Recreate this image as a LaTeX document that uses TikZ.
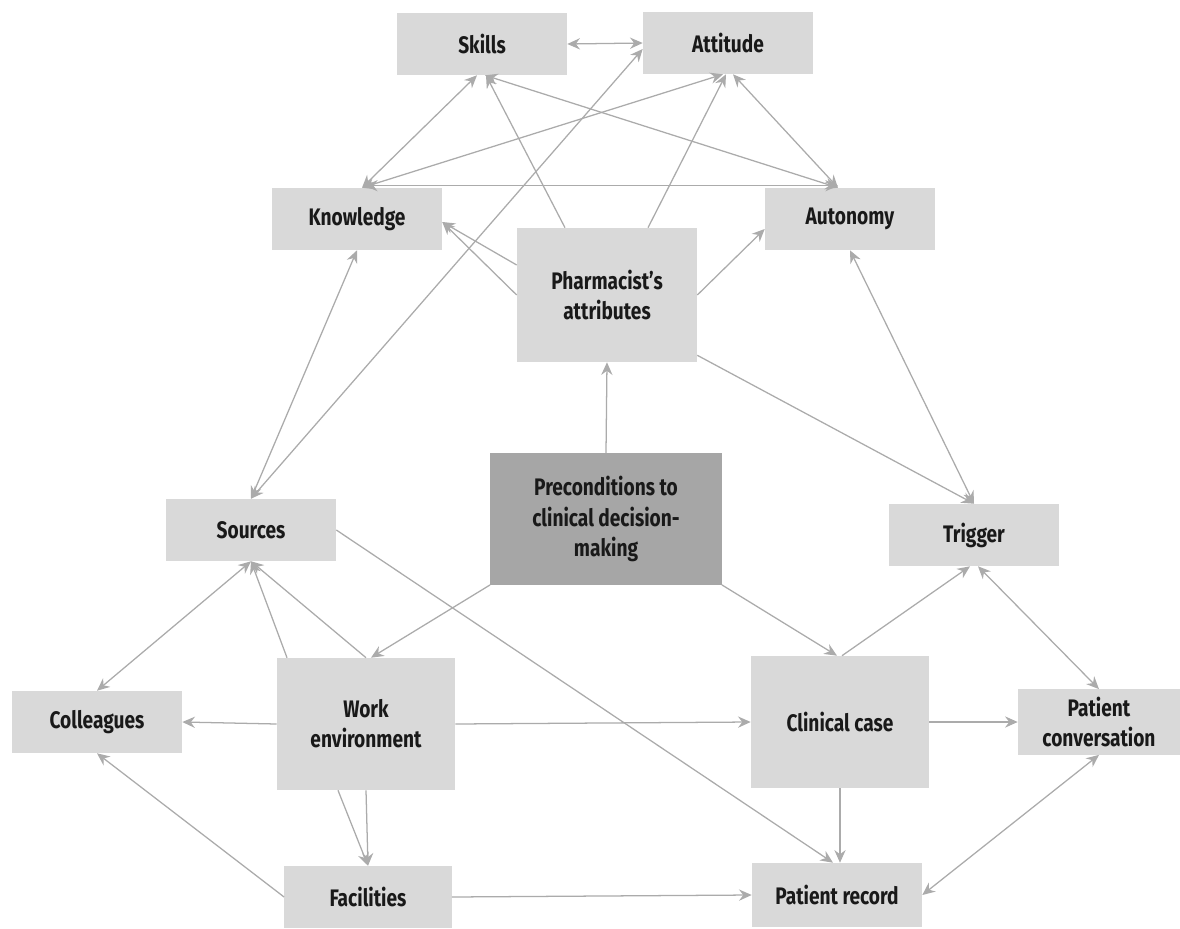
\documentclass[tikz,border=0pt]{standalone}
\usepackage{fontspec}
\setmainfont{Fira Sans}[FakeStretch=0.8]
\usetikzlibrary{arrows.meta}
\definecolor{boxgray}{HTML}{D9D9D9}
\definecolor{darkgray}{HTML}{A6A6A6}
\definecolor{linegray}{HTML}{ABABAB}
\tikzset{
  box/.style={fill=boxgray, inner sep=0pt, minimum width=4.25cm, minimum height=1.55cm,
    align=center, text=black!90, font=\fontsize{17}{21.5}\selectfont\bfseries},
  bigbox/.style={box, minimum width=4.45cm, minimum height=3.3cm},
  link/.style={draw=linegray, line width=0.9pt, -{Stealth[length=9pt,width=8pt,inset=3pt]}},
  both/.style={link, {Stealth[length=9pt,width=8pt,inset=3pt]}-{Stealth[length=9pt,width=8pt,inset=3pt]}}
}
\begin{document}
\begin{tikzpicture}[x=0.025cm, y=-0.025cm]
\useasboundingbox (0,0) rectangle (1180,929);
% top row
\node[box] (skl) at (482,44) {Skills};
\node[box] (att) at (728,43) {Attitude};
\node[box] (know) at (357,219) {Knowledge};
\node[box] (auto) at (850,219) {Autonomy};
\node[bigbox, minimum width=4.5cm, minimum height=3.35cm] (pha) at (607,295) {Pharmacist’s\\attributes};
% centre
\node[bigbox, fill=darkgray, minimum width=5.78cm, minimum height=3.28cm] (pre) at (606,519) {Preconditions to\\clinical decision-\\making};
\node[box] (src) at (251,530) {Sources};
\node[box] (trg) at (974,535) {Trigger};
% bottom rows
\node[box] (coll) at (97,722) {Colleagues};
\node[bigbox] (work) at (366,724) {Work\\environment};
\node[bigbox] (clin) at (840,722) {Clinical case};
\node[box, minimum width=4.05cm, minimum height=1.63cm] (pcon) at (1099,722) {Patient\\conversation};
\node[box, minimum width=4.18cm] (fac) at (368,897) {Facilities};
\node[box, minimum height=1.6cm] (prec) at (837,895) {Patient record};

% attributes
\draw[both] (skl.east) -- (att.west);
\draw[both] ([shift={(5,0)}]know.north) -- ([shift={(-5,0)}]skl.south);
\draw[both] ([shift={(5,0)}]know.north) -- ([shift={(-5,0)}]att.south);
\draw[both] ([shift={(8,-2)}]know.north) -- ([shift={(-12,-2)}]auto.north);
\draw[both] ([shift={(3,0)}]skl.south) -- ([shift={(-12,0)}]auto.north);
\draw[both] ([shift={(5,0)}]att.south) -- ([shift={(-12,0)}]auto.north);
\draw[link] ([shift={(-42,0)}]pha.north) -- ([shift={(4,0)}]skl.south);
\draw[link] ([shift={(41,0)}]pha.north) -- ([shift={(-2,0)}]att.south);
\draw[link] ([shift={(0,-30)}]pha.west) -- ([shift={(0,3)}]know.east);
\draw[link] (pha.west) -- ([shift={(0,3)}]know.east);
\draw[link] (pha.east) -- ([shift={(0,10)}]auto.west);
\draw[link] ([shift={(0,-7)}]pha.south east) -- (trg.north);
\draw[both] (auto.south) -- (trg.north);
\draw[link] (pre.north) -- (pha.south);
% sources
\draw[both] (src.north) -- (know.south);
\draw[both] (src.north) -- ([shift={(0,6)}]att.west);
\draw[link] (src.east) -- ([shift={(-4,0)}]prec.north);
\draw[both] (src.south) -- (coll.north);
% work environment
\draw[link] (pre.south west) -- ([shift={(5,0)}]work.north);
\draw[link] ([shift={(-79,0)}]work.north) -- (src.south);
\draw[link] (work.north) -- (src.south);
\draw[link] (work.west) -- (coll.east);
\draw[link] (work.east) -- (clin.west);
\draw[link] ([shift={(-28,0)}]work.south) -- (fac.north);
\draw[link] (work.south) -- (fac.north);
\draw[link] (fac.west) -- (coll.south);
\draw[link] (fac.east) -- (prec.west);
% clinical case
\draw[link] (pre.south east) -- ([shift={(-3,0)}]clin.north);
\draw[link] ([shift={(2,0)}]clin.north) -- ([shift={(-4,0)}]trg.south);
\draw[both] ([shift={(4,0)}]trg.south) -- (pcon.north);
\draw[link] (clin.east) -- (pcon.west);
\draw[link] (clin.south) -- ([shift={(3,0)}]prec.north);
\draw[both] (prec.east) -- (pcon.south);
\end{tikzpicture}
\end{document}
